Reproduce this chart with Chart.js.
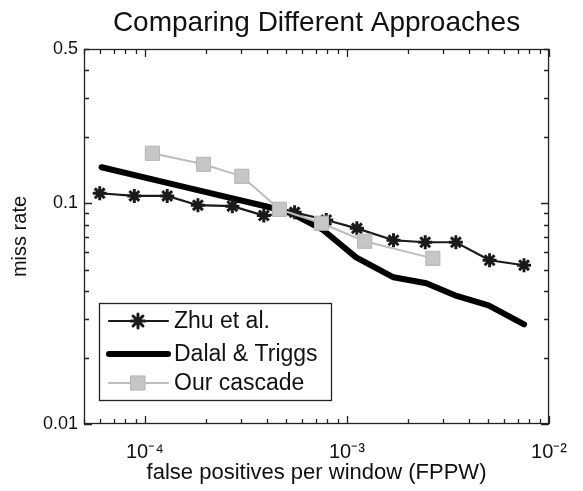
<!DOCTYPE html>
<html>
<head>
<meta charset="utf-8">
<script src="https://cdn.jsdelivr.net/npm/chart.js"></script>
<style>
  body { margin: 0; background: #fff; }
  #wrap { width: 583px; height: 491px; position: relative; }
</style>
</head>
<body>
<div id="wrap"><canvas id="rocChart"></canvas></div>
<script>
// values (log-log)
const zhuFppw = [5.98e-5, 8.87e-5, 1.29e-4, 1.83e-4, 2.71e-4, 3.88e-4, 5.51e-4, 7.9e-4, 1.12e-3, 1.70e-3, 2.44e-3, 3.46e-3, 5.08e-3, 7.52e-3];
const zhuMiss = [0.111, 0.108, 0.108, 0.098, 0.097, 0.088, 0.091, 0.084, 0.077, 0.068, 0.0666, 0.0666, 0.0552, 0.0524];
const dalalFppw = [6.11e-5, 1.6e-4, 4.15e-4, 5.33e-4, 7.65e-4, 1.11e-3, 1.70e-3, 2.47e-3, 3.42e-3, 5.02e-3, 7.52e-3];
const dalalMiss = [0.1456, 0.1181, 0.0959, 0.0901, 0.0755, 0.0569, 0.0462, 0.0434, 0.0383, 0.0345, 0.0283];
const cascadeFppw = [1.09e-4, 1.95e-4, 3.02e-4, 4.63e-4, 7.48e-4, 1.224e-3, 2.66e-3];
const cascadeMiss = [0.1685, 0.1502, 0.1325, 0.0939, 0.0812, 0.0673, 0.0563];

const seriesNames = ['Zhu et al.', 'Dalal & Triggs', 'Our cascade'];
const xTicks = [1e-4, 1e-3, 1e-2];
const xTickLabels = ['10\u207B\u2074', '10\u207B\u00B3', '10\u207B\u00B2'];
const yTicks = [0.01, 0.1, 0.5];
const yTickLabels = ['0.01', '0.1', '0.5'];
const chartTitle = 'Comparing Different Approaches';

const FONT = '"Liberation Sans", Arial, Helvetica, sans-serif';
const toPoints = (xs, ys) => xs.map((x, i) => ({ x: x, y: ys[i] }));

// box + inward minor/major ticks on all four sides, like matlab
const boxTicks = {
    id: 'boxTicks',
    afterDraw(chart) {
        const ctx = chart.ctx;
        const a = chart.chartArea;
        const xs = chart.scales.x, ys = chart.scales.y;
        ctx.save();
        ctx.strokeStyle = '#222';
        ctx.lineWidth = 1.3;
        ctx.strokeRect(a.left + 0.5, a.top + 0.5, a.right - a.left - 1, a.bottom - a.top - 1);
        ctx.beginPath();
        for (let d = 1e-5; d < 1e-1; d *= 10) {
            for (let m = 1; m <= 9; m++) {
                const v = d * m;
                if (v < xs.min * 0.999 || v > xs.max * 1.001) continue;
                const px = Math.round(xs.getPixelForValue(v)) + 0.5;
                const len = m === 1 ? 8 : 5;
                ctx.moveTo(px, a.bottom); ctx.lineTo(px, a.bottom - len);
                ctx.moveTo(px, a.top); ctx.lineTo(px, a.top + len);
            }
        }
        for (let d = 1e-3; d < 10; d *= 10) {
            for (let m = 1; m <= 9; m++) {
                const v = d * m;
                if (v < ys.min * 0.999 || v > ys.max * 1.001) continue;
                const py = Math.round(ys.getPixelForValue(v)) + 0.5;
                const len = m === 1 ? 8 : 5;
                ctx.moveTo(a.left, py); ctx.lineTo(a.left + len, py);
                ctx.moveTo(a.right, py); ctx.lineTo(a.right - len, py);
            }
        }
        ctx.stroke();

        // title centred over the axes
        ctx.fillStyle = '#111';
        ctx.font = '28px ' + FONT;
        ctx.textAlign = 'center';
        ctx.textBaseline = 'middle';
        ctx.fillText(chartTitle, (a.left + a.right) / 2, 23);

        // legend inside lower left
        const lx = 99, ly = 303, lw = 232, lh = 97;
        ctx.fillStyle = '#fff';
        ctx.fillRect(lx, ly, lw, lh);
        ctx.strokeStyle = '#222';
        ctx.lineWidth = 1.3;
        ctx.strokeRect(lx + 0.5, ly + 0.5, lw, lh);
        const rows = [321, 354, 383];
        chart.data.datasets.forEach((ds, i) => {
            const y = rows[i];
            ctx.strokeStyle = ds.borderColor;
            ctx.lineWidth = ds.borderWidth;
            ctx.lineCap = 'round';
            ctx.beginPath();
            ctx.moveTo(109, y); ctx.lineTo(168, y);
            ctx.stroke();
            if (ds.pointRadius > 0) {
                ctx.fillStyle = ds.pointBackgroundColor;
                ctx.strokeStyle = ds.pointBorderColor;
                ctx.lineWidth = ds.pointBorderWidth;
                ctx.beginPath();
                Chart.helpers.drawPoint(ctx, {
                    pointStyle: ds.pointStyle, radius: ds.pointRadius, rotation: 0,
                    borderWidth: ds.pointBorderWidth
                }, 138, y);
            }
            ctx.fillStyle = '#111';
            ctx.font = '23px ' + FONT;
            ctx.textAlign = 'left';
            ctx.textBaseline = 'middle';
            ctx.fillText(ds.label, 174, y + 1);
        });
        ctx.restore();
    }
};

const ctx = document.getElementById('rocChart').getContext('2d');

new Chart(ctx, {
    type: 'line',
    data: {
        datasets: [{
            label: seriesNames[0],
            data: toPoints(zhuFppw, zhuMiss),
            borderColor: '#1a1a1a',
            borderWidth: 2.2,
            pointStyle: 'star',
            pointRadius: 7,
            pointBorderWidth: 3,
            pointBorderColor: '#1a1a1a',
            pointBackgroundColor: '#1a1a1a',
            order: 1
        }, {
            label: seriesNames[1],
            data: toPoints(dalalFppw, dalalMiss),
            borderColor: '#000',
            borderWidth: 6,
            borderCapStyle: 'round',
            borderJoinStyle: 'round',
            pointRadius: 0,
            order: 2
        }, {
            label: seriesNames[2],
            data: toPoints(cascadeFppw, cascadeMiss),
            borderColor: '#bdbdbd',
            borderWidth: 2,
            pointStyle: 'rect',
            pointRadius: 10,
            pointBorderWidth: 1,
            pointBorderColor: '#b5b5b5',
            pointBackgroundColor: '#c6c6c6',
            order: 0
        }]
    },
    options: {
        responsive: true,
        maintainAspectRatio: false,
        animation: false,
        layout: { padding: { top: 49, right: 15, left: 0, bottom: 0 } },
        plugins: {
            legend: { display: false },
            tooltip: { enabled: false }
        },
        scales: {
            x: {
                type: 'logarithmic',
                min: 5e-5,
                max: 1e-2,
                afterFit: s => { s.height = 67; },
                afterBuildTicks: s => { s.ticks = xTicks.map(v => ({ value: v })); },
                grid: { display: false, drawTicks: false },
                border: { display: false },
                ticks: {
                    color: '#111',
                    font: { family: FONT, size: 20 },
                    padding: 16,
                    maxRotation: 0,
                    autoSkip: false,
                    callback: v => xTickLabels[xTicks.findIndex(t => Math.abs(t - v) / t < 1e-6)] || ''
                },
                title: {
                    display: true,
                    text: 'false positives per window (FPPW)',
                    color: '#111',
                    font: { family: FONT, size: 22 },
                    padding: { top: 0, bottom: 5 }
                }
            },
            y: {
                type: 'logarithmic',
                min: 0.01,
                max: 0.5,
                afterFit: s => { s.width = 84; },
                afterBuildTicks: s => { s.ticks = yTicks.map(v => ({ value: v })); },
                grid: { display: false, drawTicks: false },
                border: { display: false },
                ticks: {
                    color: '#111',
                    font: { family: FONT, size: 18 },
                    padding: 6,
                    autoSkip: false,
                    callback: v => yTickLabels[yTicks.findIndex(t => Math.abs(t - v) / t < 1e-6)] || ''
                },
                title: {
                    display: true,
                    text: 'miss rate',
                    color: '#111',
                    font: { family: FONT, size: 20 },
                    padding: { top: 8, bottom: 6 }
                }
            }
        }
    },
    plugins: [boxTicks]
});
</script>
</body>
</html>
